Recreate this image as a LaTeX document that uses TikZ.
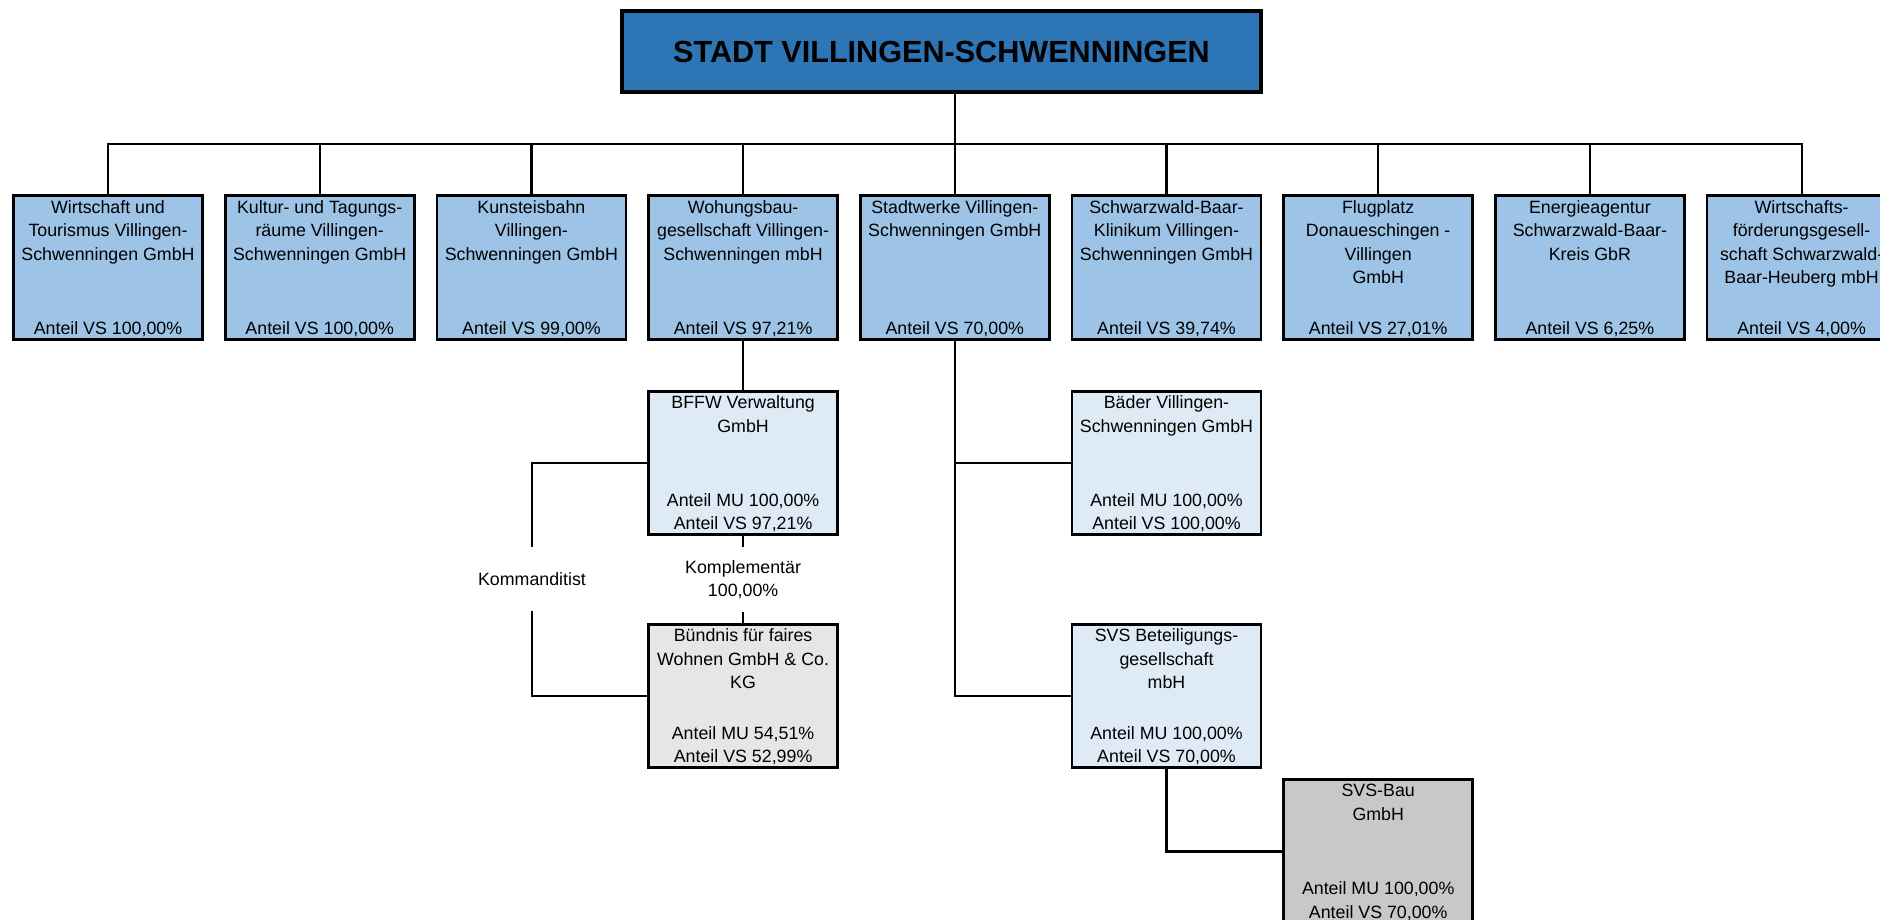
\documentclass[tikz,border=0pt]{standalone}
\usepackage{fontspec}
\setmainfont{Liberation Sans}
\definecolor{titleblue}{RGB}{46,117,182}
\definecolor{lvlone}{RGB}{157,195,230}
\definecolor{lvltwo}{RGB}{222,235,247}
\definecolor{greyone}{RGB}{230,230,230}
\definecolor{greytwo}{RGB}{200,200,200}
\newcommand\boxfont{\fontsize{8.9}{11.75}\selectfont}
\tikzset{
  orgbox/.style={draw=black, line width=1.3pt, minimum width=94.5pt, minimum height=71.75pt, inner sep=0pt},
  nametxt/.style={anchor=north, inner sep=0pt, align=center, font=\boxfont, yshift=-2.65pt},
  sharetxt/.style={anchor=south, inner sep=0pt, align=center, font=\boxfont, yshift=1.7pt},
  conn/.style={line width=1.1pt, draw=black},
  lbl/.style={inner sep=0pt, minimum height=32pt, align=center, font=\boxfont},
  titlebox/.style={draw=black, line width=2pt, fill=titleblue, minimum width=319.5pt, minimum height=40.5pt, inner sep=0pt, font=\fontsize{15.3}{18}\selectfont\bfseries}
}
\newcommand\obox[6]{%
  \node[orgbox, fill=#4] (#1) at (#2,#3) {};
  \node[nametxt] (#1n) at (#1.north) {#5};
  \node[sharetxt] (#1s) at (#1.south) {#6};
}
\begin{document}
\begin{tikzpicture}[x=0.5pt, y=-0.5pt]
\useasboundingbox (0,0) rectangle (1880,920);
\begin{scope}
\clip (0,0) rectangle (1880,920);
\node[titlebox] (title) at (941.5,51.5) {STADT VILLINGEN-SCHWENNINGEN};

\obox{b1}{108}{267.5}{lvlone}{Wirtschaft und\\Tourismus Villingen-\\Schwenningen GmbH}{Anteil VS 100,00\%}
\obox{b2}{319.7}{267.5}{lvlone}{Kultur- und Tagungs-\\räume Villingen-\\Schwenningen GmbH}{Anteil VS 100,00\%}
\obox{b3}{531.4}{267.5}{lvlone}{Kunsteisbahn\\Villingen-\\Schwenningen GmbH}{Anteil VS 99,00\%}
\obox{b4}{743.1}{267.5}{lvlone}{Wohungsbau-\\gesellschaft Villingen-\\Schwenningen mbH}{Anteil VS 97,21\%}
\obox{b5}{954.8}{267.5}{lvlone}{Stadtwerke Villingen-\\Schwenningen GmbH}{Anteil VS 70,00\%}
\obox{b6}{1166.5}{267.5}{lvlone}{Schwarzwald-Baar-\\Klinikum Villingen-\\Schwenningen GmbH}{Anteil VS 39,74\%}
\obox{b7}{1378.2}{267.5}{lvlone}{Flugplatz\\Donaueschingen -\\Villingen\\GmbH}{Anteil VS 27,01\%}
\obox{b8}{1589.9}{267.5}{lvlone}{Energieagentur\\Schwarzwald-Baar-\\Kreis GbR}{Anteil VS 6,25\%}
\obox{b9}{1801.6}{267.5}{lvlone}{Wirtschafts-\\förderungsgesell-\\schaft Schwarzwald-\\Baar-Heuberg mbH}{Anteil VS 4,00\%}

\obox{bffw}{743.1}{463}{lvltwo}{BFFW Verwaltung\\GmbH}{Anteil MU 100,00\%\\Anteil VS 97,21\%}
\obox{buend}{743.1}{696}{greyone}{Bündnis für faires\\Wohnen GmbH \& Co.\\KG}{Anteil MU 54,51\%\\Anteil VS 52,99\%}
\obox{baeder}{1166.5}{463}{lvltwo}{Bäder Villingen-\\Schwenningen GmbH}{Anteil MU 100,00\%\\Anteil VS 100,00\%}
\obox{svsb}{1166.5}{696}{lvltwo}{SVS Beteiligungs-\\gesellschaft\\mbH}{Anteil MU 100,00\%\\Anteil VS 70,00\%}
\obox{svsbau}{1378.2}{851.5}{greytwo}{SVS-Bau\\GmbH}{Anteil MU 100,00\%\\Anteil VS 70,00\%}

\node[lbl] (komm) at (532,579) {Kommanditist};
\node[lbl] (komp) at (743.1,579.5) {Komplementär\\100,00\%};

\coordinate (bus) at (0,144);
\draw[conn] (title.south -| b5.north) -- (b5.north |- bus);
\draw[conn] (b1.north) |- (b9.north |- bus) -- (b9.north);
\foreach \b in {b2,b3,b4,b5,b6,b7,b8}{
  \draw[conn] (\b.north) -- (\b.north |- bus);
}
\draw[conn] (b4.south) -- (bffw.north);
\draw[conn] (bffw.west) -| (komm.north);
\draw[conn] (komm.south) |- (buend.west);
\draw[conn] (bffw.south) -- (komp.north);
\draw[conn] (komp.south) -- (buend.north);
\draw[conn] (b5.south) |- (svsb.west);
\draw[conn] (b5.south |- baeder.west) -- (baeder.west);
\draw[conn] (svsb.south) |- (svsbau.west);
\end{scope}
\end{tikzpicture}
\end{document}
